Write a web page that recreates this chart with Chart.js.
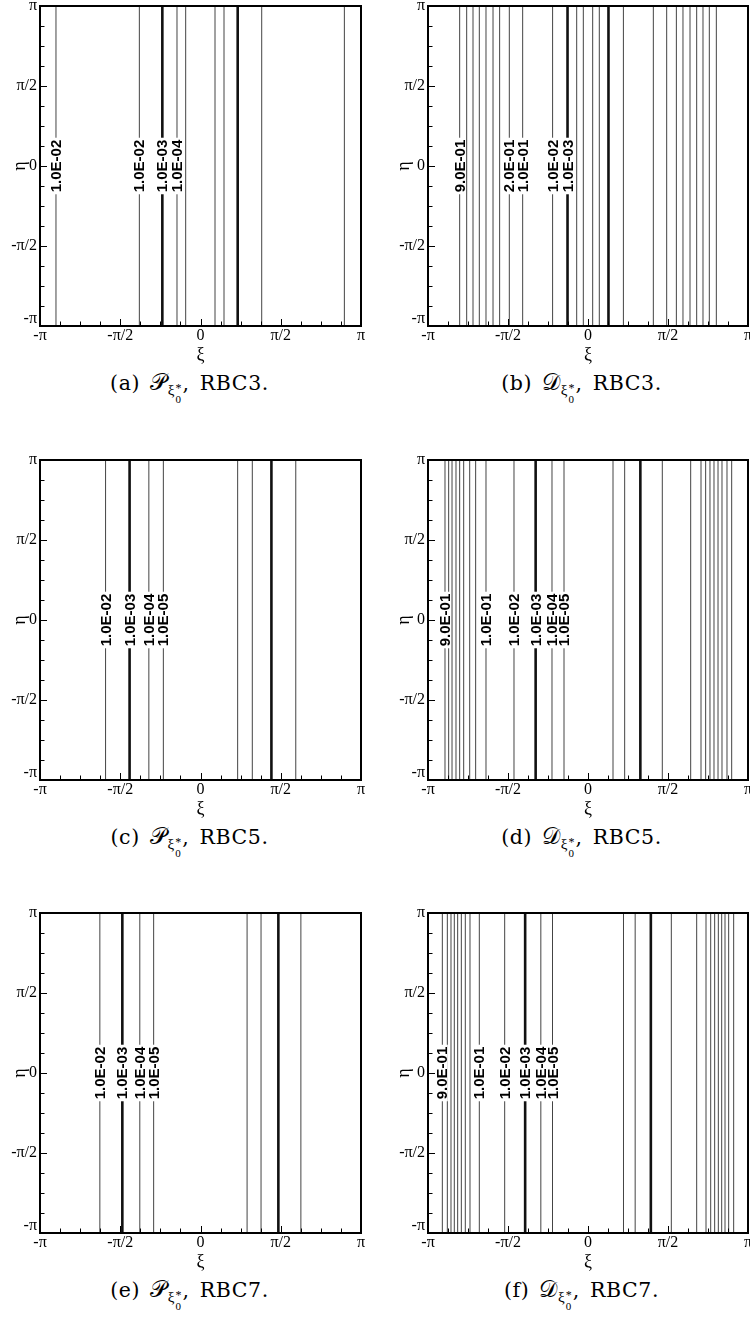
<!DOCTYPE html>
<html>
<head>
<meta charset="utf-8">
<script src="https://cdn.jsdelivr.net/npm/chart.js@4.4.1/dist/chart.umd.min.js"></script>
<style>
  html, body { margin: 0; padding: 0; background: #fff; }
  body { width: 750px; height: 1322px; position: relative; overflow: hidden; }
  .panel { position: absolute; width: 375px; height: 366px; }
  .panel canvas { display: block; }
  .cap { position: absolute; width: 375px; text-align: center; font-family: 'DejaVu Serif', 'Liberation Serif', serif;
         font-size: 20.5px; letter-spacing: 0.6px; word-spacing: 3px; line-height: 24px; color: #000; white-space: nowrap; }
  .cal { font-family: 'DejaVu Sans', 'DejaVu Serif', 'Noto Sans', serif; font-style: normal; font-size: 23px; }
  .idx { font-size: 15px; position: relative; top: 5px; font-family: 'Liberation Serif', serif; letter-spacing: 0; }
  .stack { display: inline-block; position: relative; width: 8px; height: 10px; }
  .stack .sup { position: absolute; left: 1px; top: -9px; font-size: 12px; }
  .stack .sub { position: absolute; left: 1px; top: 2px; font-size: 11px; }
</style>
</head>
<body>
<div class="panel" style="left:0;top:0"><canvas id="pa" width="375" height="366"></canvas></div>
<div class="panel" style="left:375px;top:0"><canvas id="pb" width="375" height="366"></canvas></div>
<div class="panel" style="left:0;top:454px"><canvas id="pc" width="375" height="366"></canvas></div>
<div class="panel" style="left:375px;top:454px"><canvas id="pd" width="375" height="366"></canvas></div>
<div class="panel" style="left:0;top:907px"><canvas id="pe" width="375" height="366"></canvas></div>
<div class="panel" style="left:375px;top:907px"><canvas id="pf" width="375" height="366"></canvas></div>

<div class="cap" style="left:2px;top:370px">(a) <span class="cal">𝒫</span><span class="idx">ξ<span class="stack"><span class="sup">*</span><span class="sub">0</span></span></span>, RBC3.</div>
<div class="cap" style="left:394px;top:370px">(b) <span class="cal">𝒟</span><span class="idx">ξ<span class="stack"><span class="sup">*</span><span class="sub">0</span></span></span>, RBC3.</div>
<div class="cap" style="left:2px;top:824px">(c) <span class="cal">𝒫</span><span class="idx">ξ<span class="stack"><span class="sup">*</span><span class="sub">0</span></span></span>, RBC5.</div>
<div class="cap" style="left:394px;top:824px">(d) <span class="cal">𝒟</span><span class="idx">ξ<span class="stack"><span class="sup">*</span><span class="sub">0</span></span></span>, RBC5.</div>
<div class="cap" style="left:2px;top:1277px">(e) <span class="cal">𝒫</span><span class="idx">ξ<span class="stack"><span class="sup">*</span><span class="sub">0</span></span></span>, RBC7.</div>
<div class="cap" style="left:394px;top:1277px">(f) <span class="cal">𝒟</span><span class="idx">ξ<span class="stack"><span class="sup">*</span><span class="sub">0</span></span></span>, RBC7.</div>

<script>
const PI = Math.PI;

// Axis ticks, in units of π
const tickFractions = [-1, -0.5, 0, 0.5, 1];
const tickLabels = ['-π', '-π/2', '0', 'π/2', 'π'];
const minorPerMajor = 4;

// (a) P, RBC3 — iso-line positions in ξ and their contour levels
const xiA      = [-2.829, -1.197, -0.747, -0.460, -0.290, 0.284, 0.460, 0.728, 1.198, 2.816];
const levelA   = [1e-2, 1e-2, 1e-3, 1e-4, 1e-5, 1e-5, 1e-4, 1e-3, 1e-2, 1e-2];
const labeledA = [1, 1, 1, 1, 0, 0, 0, 0, 0, 0];

// (b) D, RBC3
const xiB      = [-2.520, -2.382, -2.258, -2.134, -2.003, -1.865, -1.735, -1.545, -1.283, -0.695, -0.402, -0.222, -0.092,
                   0.092, 0.222, 0.402, 0.695, 1.283, 1.545, 1.735, 1.865, 2.003, 2.134, 2.258, 2.382, 2.520];
const levelB   = [0.9, 0.8, 0.7, 0.6, 0.5, 0.4, 0.3, 0.2, 0.1, 1e-2, 1e-3, 1e-4, 1e-5,
                  1e-5, 1e-4, 1e-3, 1e-2, 0.1, 0.2, 0.3, 0.4, 0.5, 0.6, 0.7, 0.8, 0.9];
const labeledB = [1, 0, 0, 0, 0, 0, 0, 1, 1, 1, 1, 0, 0,
                  0, 0, 0, 0, 0, 0, 0, 0, 0, 0, 0, 0, 0];

// (c) P, RBC5
const xiC      = [-1.858, -1.388, -1.011, -0.727, 0.727, 1.014, 1.388, 1.865];
const levelC   = [1e-2, 1e-3, 1e-4, 1e-5, 1e-5, 1e-4, 1e-3, 1e-2];
const labeledC = [1, 1, 1, 1, 0, 0, 0, 0];

// (d) D, RBC5
const xiD      = [-2.808, -2.736, -2.670, -2.592, -2.520, -2.441, -2.323, -2.206, -2.003, -1.453, -1.028, -0.707, -0.471,
                   0.491, 0.720, 1.028, 1.459, 2.016, 2.219, 2.310, 2.395, 2.474, 2.553, 2.631, 2.729, 2.821];
const levelD   = [0.9, 0.8, 0.7, 0.6, 0.5, 0.4, 0.3, 0.2, 0.1, 1e-2, 1e-3, 1e-4, 1e-5,
                  1e-5, 1e-4, 1e-3, 1e-2, 0.1, 0.2, 0.3, 0.4, 0.5, 0.6, 0.7, 0.8, 0.9];
const labeledD = [1, 0, 0, 0, 0, 0, 0, 0, 1, 1, 1, 1, 1,
                  0, 0, 0, 0, 0, 0, 0, 0, 0, 0, 0, 0, 0];

// (e) P, RBC7
const xiE      = [-1.970, -1.530, -1.188, -0.917, 0.912, 1.185, 1.524, 1.965];
const levelE   = [1e-2, 1e-3, 1e-4, 1e-5, 1e-5, 1e-4, 1e-3, 1e-2];
const labeledE = [1, 1, 1, 1, 0, 0, 0, 0];

// (f) D, RBC7
const xiF      = [-2.860, -2.762, -2.690, -2.625, -2.559, -2.487, -2.409, -2.317, -2.134, -1.636, -1.234, -0.926, -0.697,
                   0.697, 0.926, 1.234, 1.636, 2.134, 2.317, 2.409, 2.487, 2.559, 2.625, 2.690, 2.762, 2.860];
const levelF   = [0.9, 0.8, 0.7, 0.6, 0.5, 0.4, 0.3, 0.2, 0.1, 1e-2, 1e-3, 1e-4, 1e-5,
                  1e-5, 1e-4, 1e-3, 1e-2, 0.1, 0.2, 0.3, 0.4, 0.5, 0.6, 0.7, 0.8, 0.9];
const labeledF = [1, 0, 0, 0, 0, 0, 0, 0, 1, 1, 1, 1, 1,
                  0, 0, 0, 0, 0, 0, 0, 0, 0, 0, 0, 0, 0];

// Contour level as Tecplot-style text, e.g. 0.9 -> "9.0E-01"
function levelText(v) {
  const e = Math.floor(Math.log10(v) + 1e-9);
  const m = v / Math.pow(10, e);
  const sign = e < 0 ? '-' : '+';
  return m.toFixed(1) + 'E' + sign + String(Math.abs(e)).padStart(2, '0');
}

// Inline labels on the contour lines, centred at η = 0 and read bottom-to-top
const contourLabels = {
  id: 'contourLabels',
  afterDatasetsDraw(chart) {
    const { ctx, scales: { x, y } } = chart;
    ctx.save();
    ctx.font = 'bold 15px "Liberation Sans", Arial, sans-serif';
    chart.data.datasets.forEach(ds => {
      if (!ds.labelText) return;
      const px = x.getPixelForValue(ds.data[0].x);
      const py = y.getPixelForValue(0);
      const w = ctx.measureText(ds.labelText).width;
      ctx.save();
      ctx.translate(px, py);
      ctx.rotate(-PI / 2);
      ctx.fillStyle = '#fff';
      ctx.fillRect(-w / 2 - 2, -5.5, w + 4, 11);
      ctx.fillStyle = '#000';
      ctx.textAlign = 'center';
      ctx.textBaseline = 'middle';
      ctx.fillText(ds.labelText, 0, 1);
      ctx.restore();
    });
    ctx.restore();
  }
};

// Frame plus inward tick marks on the left and bottom edges
const frameTicks = {
  id: 'frameTicks',
  afterDraw(chart) {
    const { ctx, chartArea: a, scales: { x, y } } = chart;
    ctx.save();
    ctx.strokeStyle = '#000';
    ctx.lineWidth = 1;
    const n = (tickFractions.length - 1) * minorPerMajor;
    for (let k = 0; k <= n; k++) {
      const v = (tickFractions[0] + k * (tickFractions[1] - tickFractions[0]) / minorPerMajor) * PI;
      const len = k % minorPerMajor === 0 ? 7 : 4.5;
      const px = Math.round(x.getPixelForValue(v)) + 0.5;
      ctx.beginPath(); ctx.moveTo(px, a.bottom); ctx.lineTo(px, a.bottom - len); ctx.stroke();
      const py = Math.round(y.getPixelForValue(v)) + 0.5;
      ctx.beginPath(); ctx.moveTo(a.left, py); ctx.lineTo(a.left + len, py); ctx.stroke();
    }
    ctx.lineWidth = 2;
    ctx.strokeRect(a.left, a.top, a.right - a.left, a.bottom - a.top);
    ctx.restore();
  }
};

const serif = '"Liberation Serif", "Times New Roman", serif';

function makePanel(id, xi, levels, labeled, yAxisWidth, rightPad, yTitlePad) {
  const datasets = xi.map((v, i) => ({
    data: [{ x: v, y: -PI }, { x: v, y: PI }],
    showLine: true,
    pointRadius: 0,
    borderColor: levels[i] === 1e-3 ? '#111' : '#444',
    borderWidth: levels[i] === 1e-3 ? 2.6 : 1,
    labelText: labeled[i] ? levelText(levels[i]) : null
  }));
  new Chart(document.getElementById(id), {
    type: 'scatter',
    data: { datasets },
    plugins: [contourLabels, frameTicks],
    options: {
      responsive: false,
      animation: false,
      devicePixelRatio: 1,
      events: [],
      layout: { padding: { left: 0, right: rightPad, top: 6, bottom: 0 } },
      plugins: { legend: { display: false }, tooltip: { enabled: false } },
      scales: {
        x: {
          type: 'linear', min: -PI, max: PI,
          afterBuildTicks: s => { s.ticks = tickFractions.map(f => ({ value: f * PI })); },
          ticks: {
            callback: (v, i) => tickLabels[i],
            font: { family: serif, size: 16 }, color: '#000',
            padding: 0, maxRotation: 0, autoSkip: false
          },
          grid: { display: false, drawTicks: false },
          border: { display: false },
          title: { display: true, text: 'ξ', color: '#000', font: { family: serif, size: 18 }, padding: { top: 0, bottom: 0 } },
          afterFit: s => { s.height = 40; s.paddingLeft = 0; s.paddingRight = 0; }
        },
        y: {
          type: 'linear', min: -PI, max: PI,
          afterBuildTicks: s => { s.ticks = tickFractions.map(f => ({ value: f * PI })); },
          ticks: {
            // the bottom label is lifted half a line so it clears the ξ-axis "-π"
            callback: (v, i) => (i === 0 ? [tickLabels[i], ''] : tickLabels[i]),
            font: { family: serif, size: 16, lineHeight: 0.9 }, color: '#000',
            padding: 3, autoSkip: false
          },
          grid: { display: false, drawTicks: false },
          border: { display: false },
          title: { display: true, text: 'η', color: '#000', font: { family: serif, size: 18 }, padding: { top: yTitlePad, bottom: 0 } },
          afterFit: s => { s.width = yAxisWidth; s.paddingTop = 0; s.paddingBottom = 0; }
        }
      }
    }
  });
}

makePanel('pa', xiA, levelA, labeledA, 40, 14, 9);
makePanel('pb', xiB, levelB, labeledB, 53, 2, 18);
makePanel('pc', xiC, levelC, labeledC, 40, 14, 9);
makePanel('pd', xiD, levelD, labeledD, 53, 2, 18);
makePanel('pe', xiE, levelE, labeledE, 40, 14, 9);
makePanel('pf', xiF, levelF, labeledF, 53, 2, 18);
</script>
</body>
</html>
